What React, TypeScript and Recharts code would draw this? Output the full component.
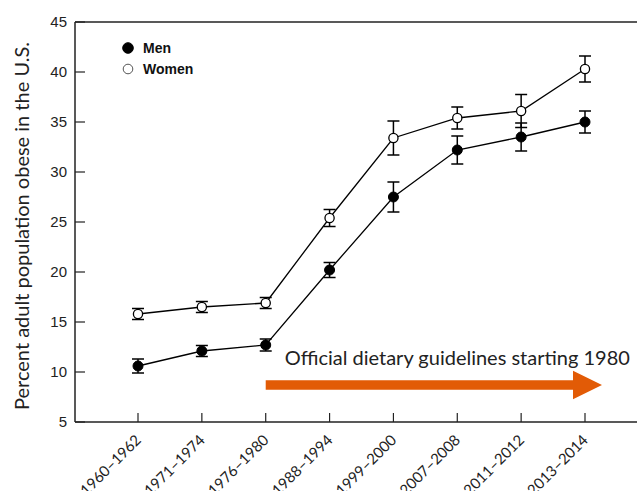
import React from 'react';
import { LineChart, Line, XAxis, YAxis, ErrorBar, ReferenceLine, Legend } from 'recharts';

const categories = ['1960–1962', '1971–1974', '1976–1980', '1988–1994', '1999–2000', '2007–2008', '2011–2012', '2013–2014'];
const menValues = [10.6, 12.1, 12.7, 20.2, 27.5, 32.2, 33.5, 35.0];
const womenValues = [15.8, 16.5, 16.9, 25.4, 33.4, 35.4, 36.1, 40.3];
const menErrors = [0.7, 0.55, 0.6, 0.75, 1.5, 1.4, 1.4, 1.1];
const womenErrors = [0.55, 0.55, 0.55, 0.85, 1.7, 1.1, 1.65, 1.3];
const yTicks = [5, 10, 15, 20, 25, 30, 35, 40, 45];
const guidelineStart = '1976–1980';
const guidelineEnd = '2013–2014';
const guidelineLevel = 8.7;
const guidelineText = 'Official dietary guidelines starting 1980';
const yAxisTitle = 'Percent adult population obese in the U.S.';

const data = categories.map((c, i) => ({
  period: c,
  men: menValues[i],
  women: womenValues[i],
  menErr: menErrors[i],
  womenErr: womenErrors[i],
}));

const ORANGE = '#E25B06';

const XTick = (props: any) => {
  const { x, y, payload } = props;
  const ax = x + 4;
  const ay = y + 1;
  return (
    <text x={ax} y={ay} transform={`rotate(-45, ${ax}, ${ay})`} textAnchor="end" fontFamily="Lato" fontSize={15} fill="#222">
      {payload.value}
    </text>
  );
};

const YTitle = (props: any) => {
  const { viewBox } = props;
  const cx = viewBox.x + 21;
  const cy = viewBox.y + viewBox.height / 2 + 4;
  return (
    <text x={cx} y={cy} transform={`rotate(-90, ${cx}, ${cy})`} textAnchor="middle" dominantBaseline="central" fontFamily="Lato" fontSize={20} fill="#222">
      {yAxisTitle}
    </text>
  );
};

const ArrowShape = (props: any) => {
  const { x1, y1, x2 } = props;
  const y = y1;
  const shaftEnd = x2 - 12;
  const tip = x2 + 17;
  const sh = 4.7;
  const hh = 14.2;
  const pts = [
    [x1, y - sh], [shaftEnd, y - sh], [shaftEnd, y - hh], [tip, y], [shaftEnd, y + hh], [shaftEnd, y + sh], [x1, y + sh],
  ].map((p) => p.join(',')).join(' ');
  return (
    <g>
      <polygon points={pts} fill={ORANGE} />
      <text x={x1 + 19} y={y - 20} fontFamily="Lato" fontSize={20} fill="#222">{guidelineText}</text>
    </g>
  );
};

const LegendContent = (props: any) => {
  const { payload } = props;
  return (
    <svg width={110} height={45}>
      {(payload || []).map((entry: any, i: number) => {
        const cy = 10 + i * 21;
        const filled = entry.dataKey === 'men';
        return (
          <g key={entry.value}>
            <circle cx={8} cy={cy} r={filled ? 5.3 : 4.8} fill={filled ? '#000' : '#fff'} stroke={filled ? '#000' : '#555'} strokeWidth={1} />
            <text x={23} y={cy + 5} fontFamily="Liberation Sans, Arial" fontWeight="bold" fontSize={14} fill="#111">{entry.value}</text>
          </g>
        );
      })}
    </svg>
  );
};

export default function App() {
  return (
    <div style={{ position: 'absolute', left: 0, top: 0, background: '#fff' }}>
      <LineChart width={637} height={491} data={data} margin={{ top: 22, right: 0, bottom: 0, left: 0 }}>
        <XAxis
          dataKey="period"
          height={69}
          padding={{ left: 63, right: 52 }}
          interval={0}
          tickSize={-9}
          tickMargin={27}
          tick={<XTick />}
          axisLine={{ stroke: '#222', strokeWidth: 1.5 }}
          tickLine={{ stroke: '#222', strokeWidth: 1.2 }}
        />
        <YAxis
          width={75}
          domain={[5, 45]}
          ticks={yTicks}
          type="number"
          interval={0}
          tickSize={-10}
          tickMargin={18}
          tick={{ fontFamily: 'Liberation Sans, Arial', fontSize: 15, fill: '#222' }}
          axisLine={{ stroke: '#222', strokeWidth: 1.5 }}
          tickLine={{ stroke: '#222', strokeWidth: 1.2 }}
          label={<YTitle />}
        />
        <ReferenceLine y={45} stroke="#222" strokeWidth={1.5} />
        <ReferenceLine
          segment={[{ x: guidelineStart, y: guidelineLevel }, { x: guidelineEnd, y: guidelineLevel }]}
          shape={<ArrowShape />}
          ifOverflow="visible"
        />
        <Legend
          layout="vertical"
          align="center"
          verticalAlign="middle"
          content={<LegendContent />}
          wrapperStyle={{ left: 120, top: 38, width: 110, height: 45 }}
        />
        <Line
          dataKey="men"
          name="Men"
          stroke="#000"
          strokeWidth={1.3}
          isAnimationActive={false}
          dot={{ r: 5, fill: '#000', stroke: '#000', strokeWidth: 1 }}
        >
          <ErrorBar dataKey="menErr" width={6} stroke="#000" strokeWidth={1.5} direction="y" />
        </Line>
        <Line
          dataKey="women"
          name="Women"
          stroke="#000"
          strokeWidth={1.3}
          isAnimationActive={false}
          dot={{ r: 4.6, fill: '#fff', stroke: '#000', strokeWidth: 1.3 }}
        >
          <ErrorBar dataKey="womenErr" width={6} stroke="#000" strokeWidth={1.5} direction="y" />
        </Line>
      </LineChart>
    </div>
  );
}
